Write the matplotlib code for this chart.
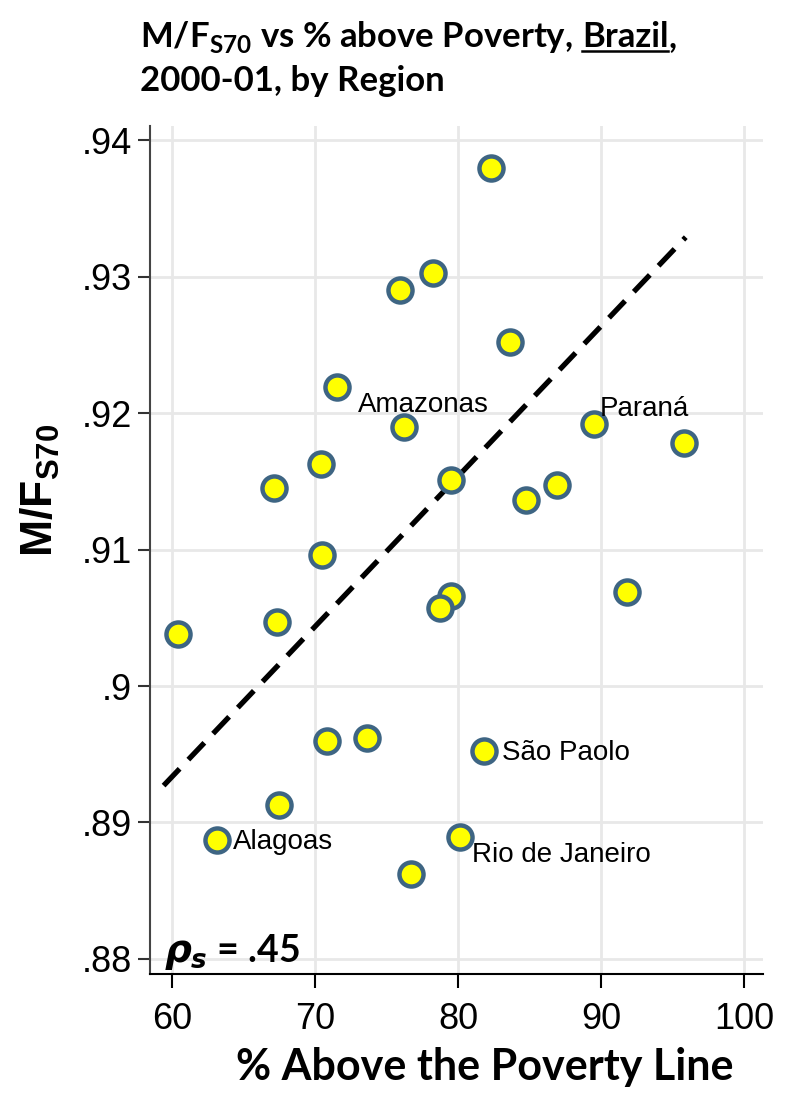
import numpy as np
import matplotlib
matplotlib.use("Agg")
import matplotlib.pyplot as plt
from matplotlib.lines import Line2D

plt.rcParams['mathtext.fontset'] = 'custom'
plt.rcParams['mathtext.bf'] = 'Lato:bold'
plt.rcParams['mathtext.sf'] = 'Liberation Sans:bold'
plt.rcParams['mathtext.it'] = 'DejaVu Sans:italic:bold'
plt.rcParams['mathtext.rm'] = 'Lato:bold'

# % above poverty line (x) and M/F S70 ratio (y), one point per region
pct_above = [82.3, 78.2, 75.9, 83.6, 71.5, 76.2, 89.5, 95.8, 70.4, 79.5,
             67.1, 84.7, 86.9, 70.5, 79.5, 78.7, 91.8, 60.4, 67.3, 70.8,
             73.6, 81.8, 67.5, 63.1, 80.1, 76.7]
mf_s70 = [.9380, .9303, .9290, .9252, .9219, .9190, .9192, .9178, .9163, .9151,
          .9145, .9136, .9147, .9096, .9066, .9057, .9069, .9038, .9047, .8960,
          .8962, .8952, .8913, .8887, .8889, .8862]
names = ["", "", "", "", "", "Amazonas", "Paraná", "", "", "",
         "", "", "", "", "", "", "", "", "", "",
         "", "São Paolo", "", "Alagoas", "Rio de Janeiro", ""]
# label offsets (points) from each labelled marker
label_off = {"Amazonas": (-33, 16), "Paraná": (4, 11), "São Paolo": (13, -1),
             "Alagoas": (12, -1), "Rio de Janeiro": (9, -13)}

# fitted line
fit_x = [59.4, 95.9]
fit_y = [.8927, .9329]

x_ticks = [60, 70, 80, 90, 100]
y_ticks = [.88, .89, .90, .91, .92, .93, .94]
y_tick_labels = [".88", ".89", ".9", ".91", ".92", ".93", ".94"]
rho_s = ".45"

fig = plt.figure(figsize=(8, 10.93), dpi=100)
ax = fig.add_axes([150/800, 1-974/1093, 613/800, 848/1093])

ax.set_xlim(58.45, 101.3)
ax.set_ylim(.87889, .94105)
ax.set_xticks(x_ticks)
ax.set_yticks(y_ticks)
ax.set_xticklabels([str(t) for t in x_ticks], fontsize=26, family='Liberation Sans')
ax.set_yticklabels(y_tick_labels, fontsize=26, family='Liberation Sans')
ax.tick_params(axis='x', length=10, width=1.5, pad=10, colors='black')
ax.tick_params(axis='y', length=9, width=1.5, pad=4, colors='#333333')
ax.tick_params(axis='y', labelcolor='black')
ax.grid(True, color='#e8e8e8', lw=2)
ax.set_axisbelow(True)
for s in ['top', 'right']:
    ax.spines[s].set_visible(False)
ax.spines['left'].set_color('#444444')
ax.spines['left'].set_linewidth(1.5)
ax.spines['bottom'].set_color('black')
ax.spines['bottom'].set_linewidth(1.5)

ax.plot(fit_x, fit_y, color='black', lw=3.8, linestyle=(0, (4.4, 2.4)), zorder=3)

ax.scatter(pct_above, mf_s70, s=300, facecolor='#ffff00', edgecolor='#3e6583',
           linewidth=3.2, zorder=4)

for xv, yv, nm in zip(pct_above, mf_s70, names):
    if nm:
        ax.annotate(nm, (xv, yv), xytext=label_off[nm], textcoords='offset points',
                    fontsize=20, family='Liberation Sans', va='center', ha='left',
                    zorder=5)

ax.text(59.45, .8798, r"$\rho_s$ = " + rho_s, fontsize=27, family='Lato',
        weight='bold', va='baseline', ha='left')

# title
ty1 = 1 - 47/1093
t1 = fig.text(140/800, ty1, r"M/F$_{\mathbf{S70}}$ vs % above Poverty,",
              fontsize=25, family='Lato', weight='bold', va='baseline', ha='left')
t2 = fig.text(0, 0, "Brazil", fontsize=25, family='Lato', weight='bold',
              va='baseline', ha='left')
t3 = fig.text(0, 0, ",", fontsize=25, family='Lato', weight='bold',
              va='baseline', ha='left')
fig.canvas.draw()
r = fig.canvas.get_renderer()
bb1 = t1.get_window_extent(r)
t2.set_position(((bb1.x1 + 9)/800, ty1))
fig.canvas.draw()
bb2 = t2.get_window_extent(r)
t3.set_position((bb2.x1/800, ty1))
uy = (1093 - 47 - 4)/1093
fig.add_artist(Line2D([bb2.x0/800, bb2.x1/800], [uy, uy], color='black', lw=1.8,
                      transform=fig.transFigure))
fig.text(140/800, 1-91/1093, "2000-01, by Region", fontsize=25, family='Lato',
         weight='bold', va='baseline', ha='left')

fig.text(40/800, 1-490/1093, r"$\mathsf{M/F_{S70}}$", fontsize=32, rotation=90,
         va='center', ha='center')
fig.text(485/800, 1-1080/1093, "% Above the Poverty Line", fontsize=31,
         family='Lato', weight='bold', va='baseline', ha='center')

fig.savefig("out.png", dpi=100)
